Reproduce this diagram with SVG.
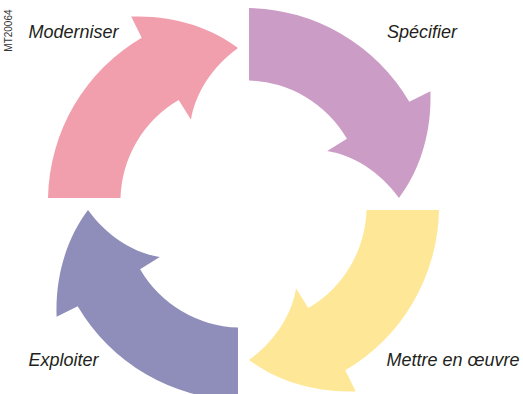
<svg xmlns="http://www.w3.org/2000/svg" width="523" height="394" viewBox="0 0 523 394">
  <style>
    .lbl { font-family: "Liberation Sans", Arial, sans-serif; font-style: italic; font-size: 18px; fill: #231f20; }
    .ref { font-family: "Liberation Sans", Arial, sans-serif; font-size: 10px; fill: #333333; }
  </style>
  <defs>
    <path id="arrow" d="M 0 -190 A 190 190 0 0 1 160.3 -96.3 L 181.4 -106.8 C 183.0 -64.4 170.2 -26.6 150 0 C 130.4 -27.1 103.5 -43.0 78.2 -47.0 L 97.9 -59.3 A 117 117 0 0 0 0 -117.5 Z"/>
  </defs>
  <rect width="523" height="394" fill="#ffffff"/>
  <g id="connectors">
    <use href="#arrow" transform="translate(238,198) rotate(270)" fill="#f19fac"/>
    <use href="#arrow" transform="translate(249,198)" fill="#cb9dc6"/>
    <use href="#arrow" transform="translate(249,210) rotate(90)" fill="#fee898"/>
    <use href="#arrow" transform="translate(238,210) rotate(180)" fill="#8f8dba"/>
  </g>
  <g id="node-moderniser"><text class="lbl" x="28.5" y="38.3">Moderniser</text></g>
  <g id="node-specifier"><text class="lbl" x="387" y="38">Spécifier</text></g>
  <g id="node-mettre"><text class="lbl" x="386.5" y="366">Mettre en œuvre</text></g>
  <g id="node-exploiter"><text class="lbl" x="28.5" y="366">Exploiter</text></g>
  <text class="ref" transform="translate(11.7,51.7) rotate(-90)">MT20064</text>
</svg>
